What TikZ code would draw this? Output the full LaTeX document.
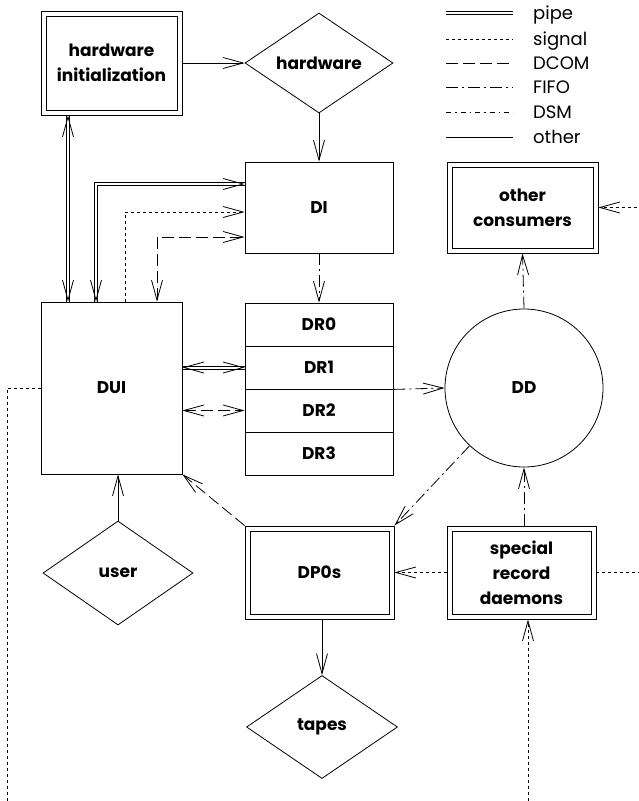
\documentclass[tikz,border=0pt]{standalone}
\usepackage{fontspec}
\setmainfont{Poppins}
\usetikzlibrary{shapes.geometric,arrows.meta,calc,decorations.markings}

\begin{document}
\begin{tikzpicture}[x=1pt,y=-1pt,
  barb/.tip={Straight Barb[length=20pt,width=11pt,line width=0.8pt]},
  >=barb,
  lbl/.style={font=\bfseries\fontsize{17}{25}\selectfont,align=center,inner sep=0pt},
  box/.style={lbl,draw,line width=0.8pt},
  dbox/.style={box,path picture={\draw[line width=0.8pt]
      ([shift={(5pt,5pt)}]path picture bounding box.south west) rectangle
      ([shift={(-5pt,-5pt)}]path picture bounding box.north east);}},
  dmd/.style={lbl,draw,line width=0.8pt,diamond},
  legtext/.style={font=\fontsize{18}{20}\selectfont,inner sep=0pt,anchor=base west},
  pipe/.style={line width=0.7pt},
  pipetips/.style={postaction={decorate,decoration={markings,
      mark=at position 0 with {\arrowreversed{barb}},
      mark=at position 1 with {\arrow{barb}}}}},
  signal/.style={line width=0.8pt,dash pattern=on 3pt off 3pt},
  dcom/.style={line width=0.8pt,dash pattern=on 12pt off 5pt},
  fifo/.style={line width=0.8pt,dash pattern=on 12pt off 4pt on 2pt off 4pt},
  dsm/.style={line width=0.8pt,dash pattern=on 5pt off 4pt on 1.5pt off 4pt},
  other/.style={line width=0.8pt}]

\useasboundingbox (0,0) rectangle (639,801);
\clip (0,0) rectangle (639,801);

% legend
\coordinate (leg-pipe) at (446,13);
\node[legtext] (legt-pipe) at (533,19) {pipe};
\draw[pipe] ($(leg-pipe)+(0,-1.6)$) -- ++(67,0);
\draw[pipe] ($(leg-pipe)+(0,1.6)$) -- ++(67,0);
\foreach \sty/\txt/\yy in {signal/signal/39,dcom/DCOM/63,fifo/FIFO/87,dsm/DSM/112,other/other/137}{
  \coordinate (leg-\sty) at (446,\yy);
  \node[legtext] (legt-\sty) at (533,\yy+6) {\txt};
  \draw[\sty] (leg-\sty) -- ++(67,0);
}

\node[dbox,minimum width=141pt,minimum height=104pt] (hwinit) at (111.5,63) {hardware\\initialization};
\node[dmd,minimum width=148pt,minimum height=100pt] (hw) at (319,63) {hardware};
\node[box,minimum width=148pt,minimum height=91pt] (di) at (319,207.5) {DI};
\node[dbox,minimum width=151pt,minimum height=91pt] (ocons) at (522.5,207.5) {other\\consumers};
\node[box,minimum width=141pt,minimum height=172pt] (dui) at (111.5,388) {DUI};
\foreach \i in {0,...,3}
  \node[box,minimum width=148pt,minimum height=43pt] (dr\i) at (319,324.5+43*\i) {DR\i};
\node[lbl,draw,line width=0.8pt,circle,minimum size=158pt] (dd) at (524,388) {DD};
\node[dmd,minimum width=150pt,minimum height=104pt] (user) at (118,573) {user};
\node[dbox,minimum width=149pt,minimum height=93pt] (dp) at (319.5,572.5) {DP0s};
\node[dbox,minimum width=149pt,minimum height=93pt] (srd) at (521.5,572.5) {special\\record\\daemons};
\node[dmd,minimum width=151pt,minimum height=103pt] (tapes) at (322,727) {tapes};

\draw[other,->] (hwinit.east) -- (hw.west);
\draw[other,->] (hw.south) -- (di.north);
% pipes: two parallel strokes, tips on the middle path
\foreach \s in {-1.6,1.6}{
  \draw[pipe] ($(hwinit.south)+(-43.5+\s,0)$) -- ($(dui.north)+(-43.5+\s,0)$);
  \draw[pipe] ($(dui.north)+(-15.5+\s,0)$) |- ($(di.west)+(0,-23.5+\s)$);
  \draw[pipe] ($(dui.east |- dr1)+(0,\s)$) -- ($(dr1.west)+(0,\s)$);
}
\path[pipetips] ($(hwinit.south)+(-43.5,0)$) -- ($(dui.north)+(-43.5,0)$);
\path[pipetips] ($(dui.north)+(-15.5,0)$) |- ($(di.west)+(0,-23.5)$);
\path[pipetips] (dui.east |- dr1) -- (dr1.west);
\draw[signal,->] ($(dui.north)+(13.5,0)$) |- ($(di.west)+(0,4.5)$);
\draw[dcom,<->] ($(dui.north)+(45.5,0)$) |- ($(di.west)+(0,29.5)$);
\draw[dcom,<->] (dui.east |- dr2) -- (dr2.west);
\draw[fifo,->] (di.south) -- (dr0.north);
\draw[fifo,->] (dr1.south east) -- (dd.west);
\draw[fifo,->] (dd.north) -- (ocons.south);
\draw[fifo,->] (dd) -- (dp.north east);
\draw[dcom,->] (dp.north west) -- (dui.south east);
\draw[other,->] (user.north) -- (user.north |- dui.south);
\draw[other,->] (tapes.north |- dp.south) -- (tapes.north);
\draw[fifo,->] (dd.south |- srd.north) -- (dd.south);
\draw[signal,->] (srd.west) -- (dp.east);
\draw[signal,->] (dui.west) -| (7,815) -| ($(srd.south)+(6.5,0)$);
\draw[signal,->] (srd.east) -| (650,207.5) -- (ocons.east);

\end{tikzpicture}
\end{document}
